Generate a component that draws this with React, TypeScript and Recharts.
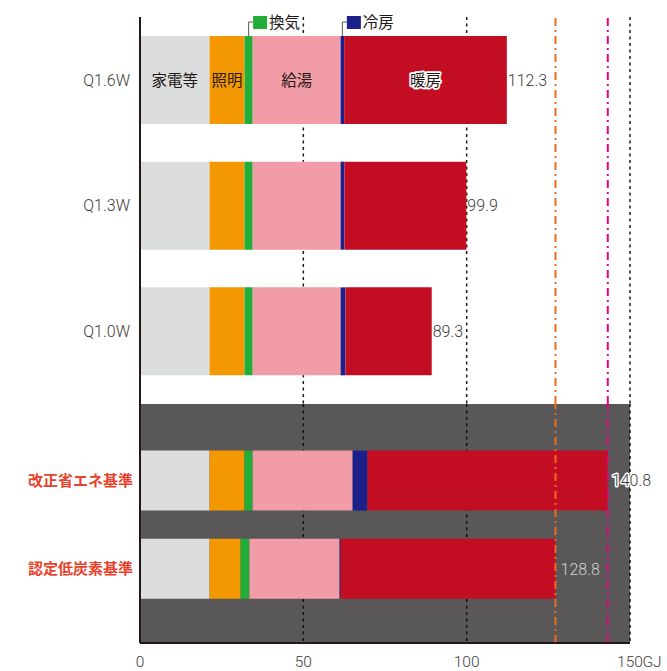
import { BarChart, Bar, XAxis, YAxis, CartesianGrid, ReferenceLine, LabelList } from 'recharts';

// 一次エネルギー消費量 (GJ/年)
const categories = ['Q1.6W', 'Q1.3W', 'Q1.0W', '改正省エネ基準', '認定低炭素基準'];
const appliances = [21.3, 21.3, 21.3, 21.3, 21.3];
const lighting = [10.7, 10.7, 10.7, 10.7, 9.5];
const ventilation = [2.5, 2.5, 2.5, 2.5, 2.7];
const hotWater = [26.9, 26.9, 26.9, 30.6, 27.6];
const cooling = [1.1, 1.2, 1.5, 4.5, 0.3];
const heating = [49.8, 37.3, 26.4, 73.6, 65.8];
const totalLabels = [112.3, 99.9, 89.3, 140.8, 128.8];
const xTicks = [0, 50, 100, 150];

const series = [
  { key: 'appliances', name: '家電等', color: '#dcdddd' },
  { key: 'lighting', name: '照明', color: '#f39800' },
  { key: 'ventilation', name: '換気', color: '#22ac38' },
  { key: 'hotWater', name: '給湯', color: '#f19ca7' },
  { key: 'cooling', name: '冷房', color: '#1d2088' },
  { key: 'heating', name: '暖房', color: '#c30d23' },
];

const rows = categories.map((name, i) => ({
  name,
  appliances: appliances[i],
  lighting: lighting[i],
  ventilation: ventilation[i],
  hotWater: hotWater[i],
  cooling: cooling[i],
  heating: heating[i],
  total: totalLabels[i],
}));
const topData = rows.slice(0, 3);
const bottomData = rows.slice(3);

const rowSum = (i: number) =>
  appliances[i] + lighting[i] + ventilation[i] + hotWater[i] + cooling[i] + heating[i];
const lowCarbonLine = rowSum(4);
const revisedLine = rowSum(3);

const LATIN = 'Roboto, "Liberation Sans", sans-serif';
const JP = '"Noto Sans CJK JP", sans-serif';
const TEXT = '#3e3a39';
const INK = '#231815';
const RED = '#e8412c';

const box = (p: any) => {
  const vb = p.viewBox && p.viewBox.width !== undefined ? p.viewBox : p;
  return { x: Number(vb.x), y: Number(vb.y), width: Number(vb.width), height: Number(vb.height) };
};

const YTick = (props: any) => {
  const { x, y, payload } = props;
  const isStd = !String(payload.value).startsWith('Q');
  return (
    <text
      x={isStd ? x + 1 : x - 2}
      y={y}
      dy="0.36em"
      textAnchor="end"
      fontFamily={isStd ? JP : LATIN}
      fontWeight={isStd ? 700 : 300}
      fontSize={isStd ? 15 : 16}
      fill={isStd ? RED : TEXT}
    >
      {payload.value}
    </text>
  );
};

const XTick = (props: any) => {
  const { x, y, payload } = props;
  const v = payload.value;
  return (
    <g fontFamily={LATIN} fontWeight={300} fontSize={15.5} fill={TEXT}>
      <text x={x} y={y + 16} textAnchor="middle">{v}</text>
      {v === 150 && <text x={x + 12.5} y={y + 16} textAnchor="start">GJ</text>}
    </g>
  );
};

// segment names drawn inside the first bar only
const segmentName = (name: string, halo = false) => (props: any) => {
  if (props.index !== 0) return null;
  const b = box(props);
  return (
    <text
      x={b.x + b.width / 2}
      y={b.y + b.height / 2}
      dy="0.36em"
      textAnchor="middle"
      fontFamily={JP}
      fontSize={15.5}
      fill={INK}
      stroke={halo ? '#fff' : 'none'}
      strokeWidth={halo ? 3.5 : 0}
      strokeLinejoin="round"
      paintOrder="stroke"
    >
      {name}
    </text>
  );
};

// small callout legend for the thin segments (換気, 冷房)
const callout = (name: string, color: string) => (props: any) => {
  if (props.index !== 0) return null;
  const b = box(props);
  const cx = b.x + b.width / 2;
  const top = b.y;
  const sq = cx + 4.5;
  return (
    <g>
      <polyline
        points={`${cx},${top} ${cx},${top - 14} ${sq},${top - 14}`}
        fill="none"
        stroke="#595757"
        strokeWidth={1}
      />
      <rect x={sq} y={top - 20} width={14} height={13} fill={color} />
      <text x={sq + 16} y={top - 8} fontFamily={JP} fontSize={15.5} fill={INK}>
        {name}
      </text>
    </g>
  );
};

const totalLabel = (bottom: boolean) => (props: any) => {
  const b = box(props);
  const idx = props.index;
  const v = Number(props.value).toFixed(1);
  const halo = bottom && idx === 0;
  const light = bottom && idx === 1;
  return (
    <text
      x={b.x + b.width + (bottom ? (halo ? 4 : 5) : 1)}
      y={b.y + b.height / 2}
      dy="0.36em"
      textAnchor="start"
      fontFamily={LATIN}
      fontWeight={300}
      fontSize={16}
      fill={light ? '#d3d3d3' : TEXT}
      stroke={halo ? '#fff' : 'none'}
      strokeWidth={halo ? 3 : 0}
      strokeLinejoin="round"
      paintOrder="stroke"
    >
      {v}
    </text>
  );
};

const dashDot = '8 4 2 4';
const gridDash = '3 3.5';

const renderBars = (bottom: boolean) =>
  series.map((s) => (
    <Bar key={s.key} dataKey={s.key} name={s.name} stackId="e" fill={s.color} isAnimationActive={false}>
      {!bottom && (s.key === 'appliances' || s.key === 'lighting' || s.key === 'hotWater') && (
        <LabelList dataKey={s.key} content={segmentName(s.name)} />
      )}
      {!bottom && s.key === 'heating' && <LabelList dataKey={s.key} content={segmentName(s.name, true)} />}
      {!bottom && (s.key === 'ventilation' || s.key === 'cooling') && (
        <LabelList dataKey={s.key} content={callout(s.name, s.color)} />
      )}
      {s.key === 'heating' && <LabelList dataKey="total" content={totalLabel(bottom)} />}
    </Bar>
  ));

const App = () => {
  return (
    <div style={{ position: 'absolute', left: 0, top: 0, width: 667, height: 671, background: '#fff' }}>
      <BarChart
        width={667}
        height={404}
        data={topData}
        layout="vertical"
        margin={{ top: 17, right: 37, bottom: 0, left: 0 }}
        barSize={88}
      >
        <CartesianGrid horizontal={false} stroke={INK} strokeWidth={1.5} strokeDasharray={gridDash} />
        <XAxis type="number" domain={[0, 150]} ticks={xTicks} hide />
        <YAxis
          type="category"
          dataKey="name"
          width={140}
          tickLine={false}
          axisLine={{ stroke: INK, strokeWidth: 2 }}
          tick={<YTick />}
          padding={{ top: 0, bottom: 10 }}
        />
        <ReferenceLine x={lowCarbonLine} stroke="#ef6c1a" strokeWidth={2} strokeDasharray={dashDot} />
        <ReferenceLine x={revisedLine} stroke="#e5007f" strokeWidth={2} strokeDasharray={dashDot} />
        {renderBars(false)}
      </BarChart>
      <BarChart
        width={667}
        height={267}
        data={bottomData}
        layout="vertical"
        margin={{ top: 0, right: 37, bottom: 0, left: 0 }}
        barSize={60}
      >
        <CartesianGrid
          horizontal={false}
          stroke="#111"
          strokeWidth={1.5}
          strokeDasharray={gridDash}
          fill="#595757"
          fillOpacity={1}
        />
        <XAxis
          type="number"
          domain={[0, 150]}
          ticks={xTicks}
          height={28}
          tickLine={false}
          axisLine={{ stroke: INK, strokeWidth: 2 }}
          tick={<XTick />}
        />
        <YAxis
          type="category"
          dataKey="name"
          width={140}
          tickLine={false}
          axisLine={{ stroke: INK, strokeWidth: 2 }}
          tick={<YTick />}
          padding={{ top: 32.6, bottom: 30 }}
        />
        <ReferenceLine x={lowCarbonLine} stroke="#ef6c1a" strokeWidth={2} strokeDasharray={dashDot} />
        <ReferenceLine x={revisedLine} stroke="#e5007f" strokeWidth={2} strokeDasharray={dashDot} />
        {renderBars(true)}
      </BarChart>
    </div>
  );
};

export default App;
